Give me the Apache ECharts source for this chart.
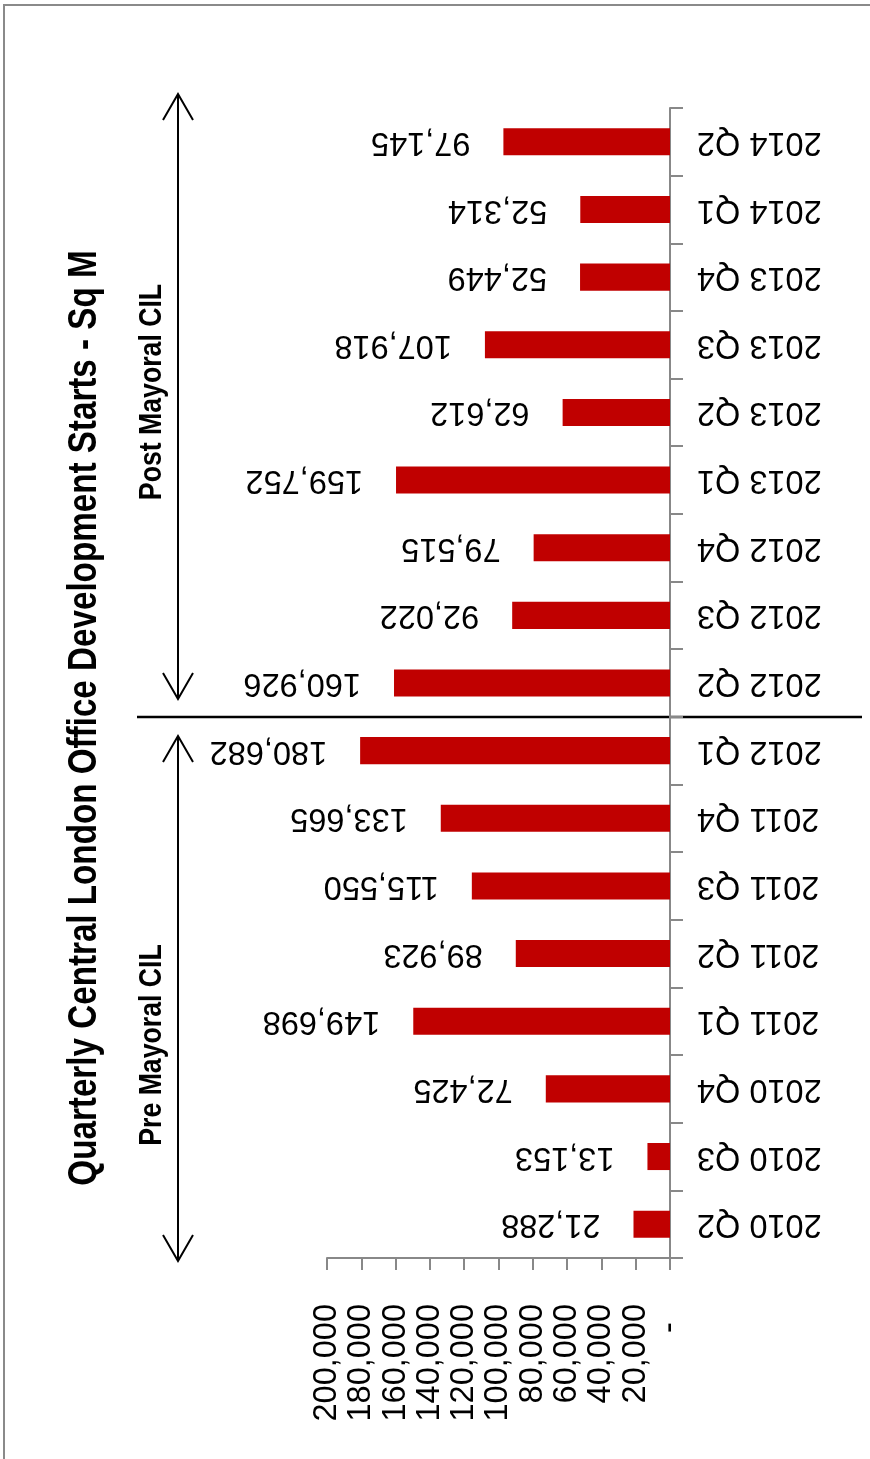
<!DOCTYPE html>
<html>
<head>
<meta charset="utf-8">
<script src="https://cdn.jsdelivr.net/npm/echarts@6/dist/echarts.min.js"></script>
<style>
html,body{margin:0;padding:0;background:#fff;}
#chart{width:870px;height:1459px;}
</style>
</head>
<body>
<div id="chart"></div>
<script>
const categories = ['2010 Q2','2010 Q3','2010 Q4','2011 Q1','2011 Q2','2011 Q3','2011 Q4','2012 Q1','2012 Q2','2012 Q3','2012 Q4','2013 Q1','2013 Q2','2013 Q3','2013 Q4','2014 Q1','2014 Q2'];
const starts = [21288,13153,72425,149698,89923,115550,133665,180682,160926,92022,79515,159752,62612,107918,52449,52314,97145];
const valueTicks = [0,20000,40000,60000,80000,100000,120000,140000,160000,180000,200000];
const titleText = 'Quarterly Central London Office Development Starts - Sq M';
const postLabel = 'Post Mayoral CIL';
const preLabel = 'Pre Mayoral CIL';

const FONT = "'Liberation Sans',Arial,Helvetica,sans-serif";
const chart = echarts.init(document.getElementById('chart'), null, {renderer:'canvas'});

function fmt(v){ return v === 0 ? '-  ' : v.toLocaleString('en-US'); }

const option = {
  backgroundColor:'#fff',
  animation:false,
  grid:{left:327, right:200, top:108, bottom:201, containLabel:false},
  xAxis:{
    type:'value', inverse:true, position:'bottom',
    min:valueTicks[0], max:valueTicks[valueTicks.length-1], interval:20000,
    axisLine:{show:true, lineStyle:{color:'#888888', width:2}},
    axisTick:{show:true, length:12, lineStyle:{color:'#888888', width:2}},
    splitLine:{show:false},
    axisLabel:{rotate:90, margin:46, fontFamily:FONT, fontSize:32.5, lineHeight:33, color:'#000',
      hideOverlap:false, showMinLabel:true, showMaxLabel:true, formatter:fmt}
  },
  yAxis:{
    type:'category', position:'right', data:categories,
    axisLine:{show:true, lineStyle:{color:'#888888', width:2}},
    axisTick:{show:true, length:13, lineStyle:{color:'#888888', width:2}},
    axisLabel:{rotate:180, margin:27, interval:0, fontFamily:FONT, fontSize:32.5, color:'#000'},
    splitLine:{show:false}
  },
  series:[{
    type:'bar', data:starts, barWidth:'40%',
    itemStyle:{color:'#C00000'},
    label:{show:true, position:'left', distance:33, rotate:180, align:'left', verticalAlign:'middle',
      fontFamily:FONT, fontSize:32.5, color:'#000',
      formatter:p=>p.value.toLocaleString('en-US')}
  }],
  graphic:[
    {type:'rect', shape:{x:4, y:5, width:900, height:1500}, style:{fill:'none', stroke:'#8a8a8a', lineWidth:2}, silent:true},
    {type:'text', x:85, y:718, rotation:Math.PI/2, scaleX:0.83,
      style:{text:titleText, font:"bold 40px "+FONT, fill:'#000', textAlign:'center', textVerticalAlign:'middle'}},
    {type:'text', x:152, y:392, rotation:Math.PI/2, scaleX:0.86,
      style:{text:postLabel, font:"bold 31px "+FONT, fill:'#000', textAlign:'center', textVerticalAlign:'middle'}},
    {type:'text', x:152, y:1045, rotation:Math.PI/2, scaleX:0.86,
      style:{text:preLabel, font:"bold 31px "+FONT, fill:'#000', textAlign:'center', textVerticalAlign:'middle'}},
    {type:'line', shape:{x1:137, y1:717, x2:862, y2:717}, style:{stroke:'#000', lineWidth:2.5}},
    // Post arrow
    {type:'line', shape:{x1:178, y1:94, x2:178, y2:699}, style:{stroke:'#000', lineWidth:2}},
    {type:'polyline', shape:{points:[[163,120],[178,94],[193,120]]}, style:{stroke:'#000', lineWidth:2, fill:'none'}},
    {type:'polyline', shape:{points:[[163,673],[178,699],[193,673]]}, style:{stroke:'#000', lineWidth:2, fill:'none'}},
    // Pre arrow
    {type:'line', shape:{x1:178, y1:736, x2:178, y2:1261}, style:{stroke:'#000', lineWidth:2}},
    {type:'polyline', shape:{points:[[163,762],[178,736],[193,762]]}, style:{stroke:'#000', lineWidth:2, fill:'none'}},
    {type:'polyline', shape:{points:[[163,1235],[178,1261],[193,1235]]}, style:{stroke:'#000', lineWidth:2, fill:'none'}}
  ]
};
chart.setOption(option);
</script>
</body>
</html>
